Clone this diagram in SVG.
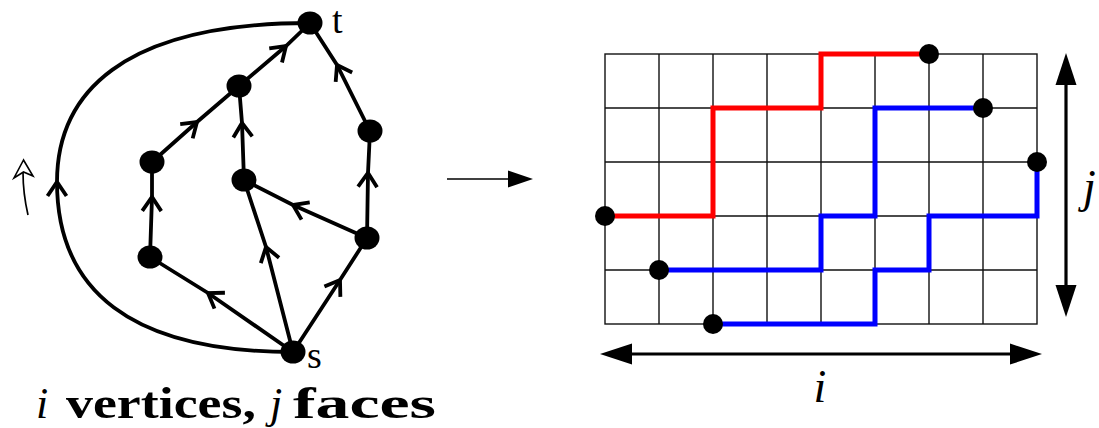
<svg xmlns="http://www.w3.org/2000/svg" width="1099" height="428" viewBox="0 0 1099 428">
<style>
.edge{fill:none;stroke:#000;stroke-width:3.8;marker-mid:url(#chev)}
.node{fill:#000}
.grid{fill:none;stroke:#111;stroke-width:1.4}
.red{fill:none;stroke:#ff0000;stroke-width:5}
.blue{fill:none;stroke:#0000ff;stroke-width:5}
.lbl{font-family:"Liberation Serif","DejaVu Serif",serif;fill:#000}
.it{font-style:italic}
.bf{font-weight:bold}
</style>
<defs>
<marker id="chev" markerUnits="userSpaceOnUse" viewBox="-16 -12 20 24" markerWidth="20" markerHeight="24" refX="0" refY="0" orient="auto" overflow="visible">
<path d="M-14,-9.5 L0,0 L-14,9.5" fill="none" stroke="#000" stroke-width="3.8"/>
</marker>
</defs>
<g id="connectors">
<path class="edge" d="M293,352 C130,352 57,290 57,182 C57,95 120,23 310,23"/>
<polyline class="edge" points="293,352 208,293 150,257"/>
<polyline class="edge" points="293,352 266,247 244,180"/>
<polyline class="edge" points="293,352 340,280 367,238"/>
<polyline class="edge" points="150,257 152,197 152,162"/>
<polyline class="edge" points="152,162 197,122 239,86"/>
<polyline class="edge" points="244,180 242,123 239,86"/>
<polyline class="edge" points="367,238 293,205 244,180"/>
<polyline class="edge" points="367,238 368,173 370,131"/>
<polyline class="edge" points="370,131 337,65 310,23"/>
<polyline class="edge" points="239,86 286,46 310,23"/>
<path d="M28,215 C25,202 23,190 23,172" fill="none" stroke="#000" stroke-width="1.7"/>
<path d="M23.5,160 L14,178 L23.5,172 L33,176 Z" fill="#fff" stroke="#000" stroke-width="1.6" stroke-linejoin="miter"/>
<line x1="447" y1="179" x2="510" y2="179" stroke="#000" stroke-width="1.6"/>
<polygon points="533,179 508,170.5 508,187.5" fill="#000"/>
</g>
<g id="node-t"><ellipse class="node" cx="310" cy="23" rx="12.5" ry="11.5"/><text class="lbl" x="332" y="33" font-size="38">t</text></g>
<g id="node-a"><ellipse class="node" cx="239" cy="86" rx="12.5" ry="11.5"/></g>
<g id="node-b"><ellipse class="node" cx="370" cy="131" rx="12.5" ry="11.5"/></g>
<g id="node-c"><ellipse class="node" cx="152" cy="162" rx="12.5" ry="11.5"/></g>
<g id="node-d"><ellipse class="node" cx="244" cy="180" rx="12.5" ry="11.5"/></g>
<g id="node-e"><ellipse class="node" cx="367" cy="238" rx="12.5" ry="11.5"/></g>
<g id="node-f"><ellipse class="node" cx="150" cy="257" rx="12.5" ry="11.5"/></g>
<g id="node-s"><ellipse class="node" cx="293" cy="352" rx="12.5" ry="11.5"/><text class="lbl" x="307" y="368" font-size="38">s</text></g>
<g id="caption">
<text class="lbl" y="418" font-size="44"><tspan class="it" x="36">i</tspan><tspan class="bf" x="66" textLength="190" lengthAdjust="spacingAndGlyphs">vertices,</tspan><tspan class="it" x="270">j</tspan><tspan class="bf" x="293" textLength="143" lengthAdjust="spacingAndGlyphs">faces</tspan></text>
</g>
<g id="grid">
<rect class="grid" x="605" y="54" width="432" height="270"/>
<path class="grid" d="M659,54V324M713,54V324M767,54V324M821,54V324M875,54V324M929,54V324M983,54V324M605,108H1037M605,162H1037M605,216H1037M605,270H1037"/>
</g>
<g id="path-red">
<polyline class="red" points="605,216 713,216 713,108 821,108 821,54 929,54"/>
<circle class="node" cx="605" cy="216" r="10"/><circle class="node" cx="929" cy="54" r="10"/>
</g>
<g id="path-blue-1">
<polyline class="blue" points="659,270 821,270 821,216 875,216 875,108 983,108"/>
<circle class="node" cx="659" cy="270" r="10"/><circle class="node" cx="983" cy="108" r="10"/>
</g>
<g id="path-blue-2">
<polyline class="blue" points="713,324 875,324 875,270 929,270 929,216 1037,216 1037,162"/>
<circle class="node" cx="713" cy="324" r="10"/><circle class="node" cx="1037" cy="162" r="10"/>
</g>
<g id="dim-j">
<line x1="1066" y1="80" x2="1066" y2="290" stroke="#000" stroke-width="3.2"/>
<polygon points="1066,53 1055.5,85 1076.5,85" fill="#000"/>
<polygon points="1066,317 1055.5,285 1076.5,285" fill="#000"/>
<text class="lbl it" x="1083" y="202" font-size="46">j</text>
</g>
<g id="dim-i">
<line x1="628" y1="354" x2="1014" y2="354" stroke="#000" stroke-width="3.2"/>
<polygon points="600,354 632,343.5 632,364.5" fill="#000"/>
<polygon points="1042,354 1010,343.5 1010,364.5" fill="#000"/>
<text class="lbl it" x="820" y="402" font-size="46" text-anchor="middle">i</text>
</g>
</svg>
